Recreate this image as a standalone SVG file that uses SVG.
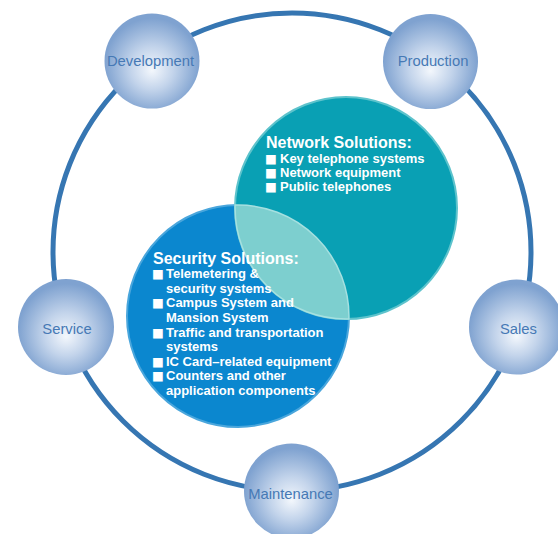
<svg xmlns="http://www.w3.org/2000/svg" width="558" height="534" viewBox="0 0 558 534">
<defs>
<radialGradient id="ball" cx="0.5" cy="0.55" r="0.5" fx="0.5" fy="0.6">
<stop offset="0" stop-color="#f3f7fc"/>
<stop offset="0.45" stop-color="#c3d4eb"/>
<stop offset="1" stop-color="#7fa2d0"/>
</radialGradient>
<style>
.ring{fill:none;stroke:#3676b2;stroke-width:5}
.ball{fill:url(#ball)}
.lbl{font-family:"Liberation Sans",Arial,sans-serif;font-size:14.8px;fill:#4679b5;text-anchor:middle}
.net{fill:#09a0b4;stroke:#5ec3cc;stroke-width:2}
.sec{fill:#0b87cf;stroke:#4aa6dc;stroke-width:2}
.lens{fill:#7dcfcf;stroke:#a6e0e0;stroke-width:1.5}
.ttl{font-family:"Liberation Sans",Arial,sans-serif;font-weight:bold;font-size:16px;fill:#ffffff}
.itm{font-family:"Liberation Sans",Arial,sans-serif;font-weight:bold;font-size:13px;fill:#ffffff}
.bq{font-family:"DejaVu Sans",sans-serif;font-size:12.5px;font-weight:normal}
</style>
</defs>
<g id="connectors">
<circle class="ring" cx="292" cy="252" r="239"/>
</g>
<g id="development">
<circle class="ball" cx="152" cy="61" r="47.5"/>
<text class="lbl" x="150.5" y="66">Development</text>
</g>
<g id="production">
<circle class="ball" cx="430.5" cy="61.5" r="47.5"/>
<text class="lbl" x="433" y="66">Production</text>
</g>
<g id="sales">
<circle class="ball" cx="516.5" cy="327" r="47.5"/>
<text class="lbl" x="518.5" y="333.5">Sales</text>
</g>
<g id="service">
<circle class="ball" cx="66" cy="327" r="48"/>
<text class="lbl" x="67" y="333.5">Service</text>
</g>
<g id="maintenance">
<circle class="ball" cx="291.5" cy="491" r="47.5"/>
<text class="lbl" x="290.5" y="499">Maintenance</text>
</g>
<g id="security-solutions">
<circle class="sec" cx="238" cy="316" r="111"/>
</g>
<g id="network-solutions">
<circle class="net" cx="346" cy="208" r="111"/>
<text class="ttl" x="266" y="147.5">Network Solutions:</text>
<text class="itm" y="163"><tspan class="bq" x="265">■</tspan><tspan x="280">Key telephone systems</tspan></text>
<text class="itm" y="177"><tspan class="bq" x="265">■</tspan><tspan x="280">Network equipment</tspan></text>
<text class="itm" y="191"><tspan class="bq" x="265">■</tspan><tspan x="280">Public telephones</tspan></text>
</g>
<g id="overlap">
<path class="lens" d="M235.1,205.1 A111,111 0 0 0 348.9,318.9 A111,111 0 0 0 235.1,205.1 Z"/>
</g>
<g id="security-text">
<text class="ttl" x="153" y="263.5">Security Solutions:</text>
<text class="itm" y="278"><tspan class="bq" x="152">■</tspan><tspan x="166">Telemetering &amp;</tspan></text>
<text class="itm" x="166" y="292.5">security systems</text>
<text class="itm" y="307"><tspan class="bq" x="152">■</tspan><tspan x="166">Campus System and</tspan></text>
<text class="itm" x="166" y="322">Mansion System</text>
<text class="itm" y="336.5"><tspan class="bq" x="152">■</tspan><tspan x="166">Traffic and transportation</tspan></text>
<text class="itm" x="166" y="351">systems</text>
<text class="itm" y="365.5"><tspan class="bq" x="152">■</tspan><tspan x="166">IC Card–related equipment</tspan></text>
<text class="itm" y="380"><tspan class="bq" x="152">■</tspan><tspan x="166">Counters and other</tspan></text>
<text class="itm" x="166" y="394.5">application components</text>
</g>
</svg>
